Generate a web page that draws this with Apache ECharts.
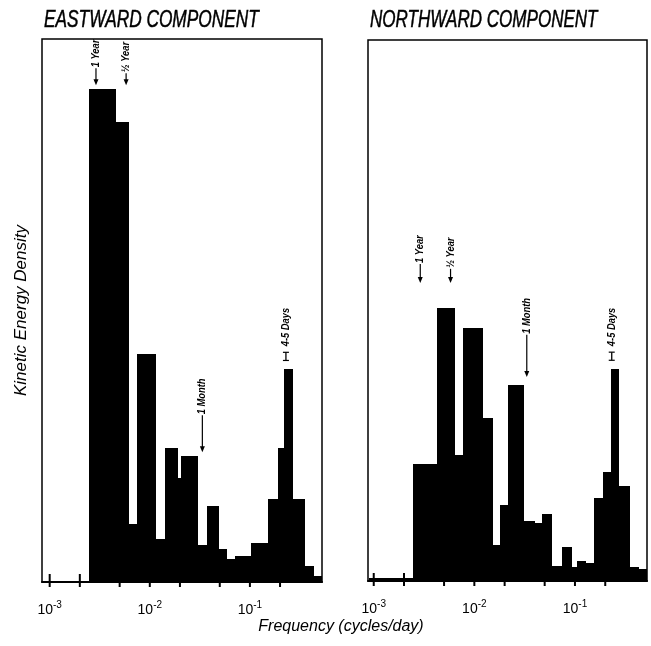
<!DOCTYPE html>
<html>
<head>
<meta charset="utf-8">
<script src="https://cdn.jsdelivr.net/npm/echarts@6/dist/echarts.min.js"></script>
<style>
html,body{margin:0;padding:0;background:#fff;}
#c{width:651px;height:646px;}
</style>
</head>
<body>
<div id="c"></div>
<script>
// ---- Data (frequency in cycles/day, kinetic energy density in arbitrary units) ----
var eastEdges = [0.00247, 0.00454, 0.00607, 0.00746, 0.01122, 0.01435, 0.01849, 0.0204, 0.0297, 0.0374,
                 0.0475, 0.0575, 0.0713, 0.1016, 0.1524, 0.192, 0.219, 0.265, 0.347, 0.43, 0.513];
var eastValues = [90.8, 84.8, 10.7, 42.0, 8.0, 24.6, 19.2, 23.2, 6.9, 14.0,
                  6.0, 4.2, 4.8, 7.2, 15.2, 24.7, 39.3, 15.2, 3.0, 1.1];

var northEdges = [0.0009, 0.00246, 0.00421, 0.0063, 0.00763, 0.0118, 0.01503, 0.01794, 0.0214, 0.0306, 0.0394,
                  0.0467, 0.0573, 0.0738, 0.0906, 0.1054, 0.1259, 0.1546, 0.1888, 0.228, 0.270, 0.347, 0.427, 0.509];
var northValues = [0.5, 21.6, 50.4, 23.3, 46.7, 30.2, 6.6, 14.0, 36.2, 11.0, 10.7,
                   12.4, 2.8, 6.25, 2.6, 3.7, 3.4, 15.4, 20.1, 39.1, 17.6, 2.6, 2.2];

var tickValues = [0.001, 0.002, 0.005, 0.01, 0.02, 0.05, 0.1, 0.2];

// annotations: frequency, tip value, tail value, kind, text
var eastMarkFreq = [0.0029, 0.0058, 0.0335, 0.229];
var eastMarkTip  = [91.5, 91.5, 23.9, 40.8];
var eastMarkTail = [94.6, 93.7, 30.7, 42.3];
var eastMarkKind = ['arrow', 'arrow', 'arrow', 'bar'];
var eastMarkText = ['1 Year', '\u00BD Year', '1 Month', '4-5 Days'];

var northMarkFreq = [0.0029, 0.0058, 0.0332, 0.232];
var northMarkTip  = [55.1, 55.1, 37.7, 40.8];
var northMarkTail = [58.6, 57.7, 45.5, 42.3];
var northMarkKind = ['arrow', 'arrow', 'arrow', 'bar'];
var northMarkText = ['1 Year', '\u00BD Year', '1 Month', '4-5 Days'];

function toBars(edges, values) {
  var out = [];
  for (var i = 0; i < values.length; i++) out.push([edges[i], edges[i + 1], values[i]]);
  return out;
}
function toMarks(f, tip, tail) {
  var out = [];
  for (var i = 0; i < f.length; i++) out.push([f[i], tip[i], tail[i]]);
  return out;
}

var FONT = '"Liberation Sans", "DejaVu Sans", sans-serif';

function renderBar(params, api) {
  var p0 = api.coord([api.value(0), api.value(2)]);
  var p1 = api.coord([api.value(1), 0]);
  var x0 = Math.round(p0[0]), x1 = Math.round(p1[0]);
  var y0 = Math.round(p0[1]), y1 = p1[1];
  return {
    type: 'rect',
    shape: { x: x0, y: y0, width: x1 - x0 + 1, height: y1 - y0 },
    style: { fill: '#000' }
  };
}
function renderTick(params, api) {
  var p = api.coord([api.value(0), 0]);
  return {
    type: 'line',
    shape: { x1: p[0], y1: p[1] - 8, x2: p[0], y2: p[1] + 5 },
    style: { stroke: '#000', lineWidth: 2 }
  };
}
function makeMarkRenderer(kinds, texts) {
  return function (params, api) {
    var i = params.dataIndex;
    var tip = api.coord([api.value(0), api.value(1)]);
    var tail = api.coord([api.value(0), api.value(2)]);
    var x = tip[0];
    var children = [];
    var textStart;
    if (kinds[i] === 'arrow') {
      children.push({ type: 'line', shape: { x1: x, y1: tail[1], x2: x, y2: tip[1] - 3 },
        style: { stroke: '#000', lineWidth: 1.2 } });
      children.push({ type: 'polygon', shape: { points: [[x - 2.5, tip[1] - 6], [x + 2.5, tip[1] - 6], [x, tip[1]]] },
        style: { fill: '#000' } });
      textStart = tail[1] - 1;
    } else {
      children.push({ type: 'line', shape: { x1: x, y1: tail[1], x2: x, y2: tip[1] }, style: { stroke: '#000', lineWidth: 1.3 } });
      children.push({ type: 'line', shape: { x1: x - 3, y1: tail[1], x2: x + 3, y2: tail[1] }, style: { stroke: '#000', lineWidth: 1.2 } });
      children.push({ type: 'line', shape: { x1: x - 3, y1: tip[1], x2: x + 3, y2: tip[1] }, style: { stroke: '#000', lineWidth: 1.2 } });
      textStart = tail[1] - 6;
    }
    children.push({
      type: 'text',
      x: x, y: textStart,
      rotation: Math.PI / 2,
      scaleX: 0.85,
      style: {
        text: texts[i], fill: '#000',
        font: 'italic bold 11px ' + FONT,
        align: 'left', verticalAlign: 'middle'
      }
    });
    return { type: 'group', children: children };
  };
}

function labelFmt(v) {
  var e = Math.log10(v);
  var r = Math.round(e);
  if (Math.abs(e - r) < 1e-6) return '10{s|' + r + '}';
  return '';
}

function xAxisCfg(gridIndex, min, max) {
  return {
    type: 'log', gridIndex: gridIndex, min: min, max: max, logBase: 10,
    axisLine: { show: true, lineStyle: { color: '#000', width: 2 } },
    axisTick: { show: false },
    splitLine: { show: false },
    minorTick: { show: false },
    axisLabel: {
      show: true, margin: 18, formatter: labelFmt, color: '#000',
      fontFamily: FONT, fontSize: 14,
      showMinLabel: true, showMaxLabel: true,
      rich: { s: { fontSize: 10, fontFamily: FONT, color: '#000', padding: [0, 0, 10, 0] } }
    }
  };
}
function yAxisCfg(gridIndex, withName) {
  var c = {
    type: 'value', gridIndex: gridIndex, min: 0, max: 100,
    axisLine: { show: false }, axisTick: { show: false }, axisLabel: { show: false },
    splitLine: { show: false }
  };
  if (withName) {
    c.name = 'Kinetic Energy Density';
    c.nameLocation = 'middle';
    c.nameGap = 12;
    c.nameRotate = 90;
    c.nameTextStyle = { fontFamily: FONT, fontStyle: 'italic', fontSize: 17, color: '#000' };
  }
  return c;
}

var chart = echarts.init(document.getElementById('c'), null, { renderer: 'canvas' });
chart.setOption({
  backgroundColor: '#fff',
  animation: false,
  graphic: [
    { type: 'text', x: 44, y: 8, scaleX: 0.72,
      style: { text: 'EASTWARD COMPONENT', font: 'italic 24px ' + FONT, fill: '#000', stroke: '#000', lineWidth: 0.5 } },
    { type: 'text', x: 370, y: 8, scaleX: 0.71,
      style: { text: 'NORTHWARD COMPONENT', font: 'italic 24px ' + FONT, fill: '#000', stroke: '#000', lineWidth: 0.5 } }
  ],
  title: [
    { text: 'Frequency (cycles/day)', left: 341, top: 619, padding: 0, textAlign: 'center',
      textStyle: { fontFamily: FONT, fontStyle: 'italic', fontWeight: 'normal', fontSize: 16, color: '#000' } }
  ],
  grid: [
    { left: 42, top: 39, width: 280, height: 543, show: true, borderColor: '#000', borderWidth: 1.5, backgroundColor: '#fff' },
    { left: 368, top: 40, width: 279, height: 541, show: true, borderColor: '#000', borderWidth: 1.5, backgroundColor: '#fff' }
  ],
  xAxis: [xAxisCfg(0, 0.000838, 0.525), xAxisCfg(1, 0.000877, 0.52)],
  yAxis: [yAxisCfg(0, true), yAxisCfg(1, false)],
  series: [
    { type: 'custom', xAxisIndex: 0, yAxisIndex: 0, renderItem: renderBar,
      encode: { x: [0, 1], y: 2 }, data: toBars(eastEdges, eastValues), z: 2 },
    { type: 'custom', xAxisIndex: 1, yAxisIndex: 1, renderItem: renderBar,
      encode: { x: [0, 1], y: 2 }, data: toBars(northEdges, northValues), z: 2 },
    { type: 'custom', xAxisIndex: 0, yAxisIndex: 0, renderItem: renderTick, clip: false,
      encode: { x: 0 }, data: tickValues.map(function (v) { return [v]; }), z: 5 },
    { type: 'custom', xAxisIndex: 1, yAxisIndex: 1, renderItem: renderTick, clip: false,
      encode: { x: 0 }, data: tickValues.map(function (v) { return [v]; }), z: 5 },
    { type: 'custom', xAxisIndex: 0, yAxisIndex: 0, clip: false,
      renderItem: makeMarkRenderer(eastMarkKind, eastMarkText),
      encode: { x: 0, y: [1, 2] }, data: toMarks(eastMarkFreq, eastMarkTip, eastMarkTail), z: 6 },
    { type: 'custom', xAxisIndex: 1, yAxisIndex: 1, clip: false,
      renderItem: makeMarkRenderer(northMarkKind, northMarkText),
      encode: { x: 0, y: [1, 2] }, data: toMarks(northMarkFreq, northMarkTip, northMarkTail), z: 6 }
  ]
});
</script>
</body>
</html>
